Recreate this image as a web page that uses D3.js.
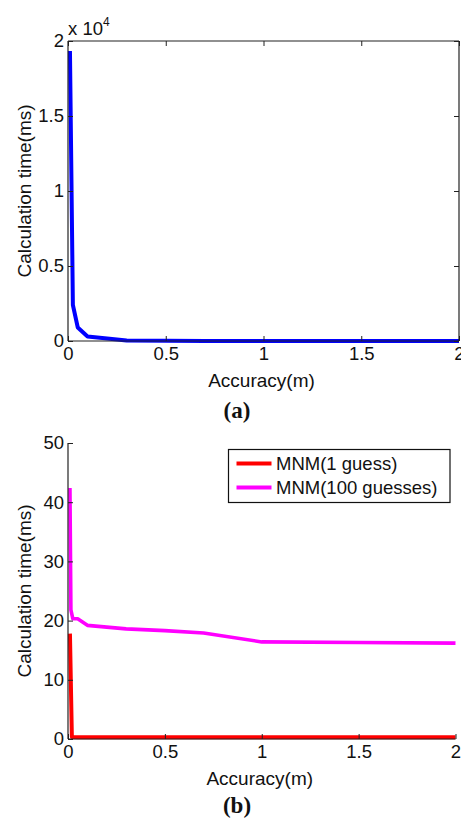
<!DOCTYPE html>
<html>
<head>
<meta charset="utf-8">
<script src="https://cdn.jsdelivr.net/npm/d3@7"></script>
<style>
  html, body { margin: 0; padding: 0; background: #fff; }
  svg { display: block; }
  text { font-family: "Liberation Sans", Arial, sans-serif; fill: #111; }
  .caption { font-family: "Liberation Serif", "DejaVu Serif", serif; font-weight: bold; }
</style>
</head>
<body>
<svg id="fig" width="461" height="823"></svg>
<script>
// (a) calculation time of the full search versus accuracy
const accuracyA = [0.01, 0.025, 0.05, 0.1, 0.3, 0.5, 0.7, 1, 1.5, 2];
const timeA = [19330, 2400, 900, 300, 30, 12, 8, 6, 5, 5];

// (b) MNM with one and with 100 initial guesses
const accuracyMNM1 = [0.01, 0.02, 0.05, 0.1, 0.3, 0.5, 0.7, 1, 1.5, 2];
const timeMNM1 = [17.8, 0.35, 0.3, 0.3, 0.3, 0.3, 0.3, 0.3, 0.3, 0.3];
const accuracyMNM100 = [0.01, 0.015, 0.025, 0.05, 0.1, 0.3, 0.5, 0.7, 1, 1.5, 2];
const timeMNM100 = [42.4, 21.8, 20.3, 20.3, 19.2, 18.6, 18.3, 17.9, 16.4, 16.3, 16.2];

const xTicks = [0, 0.5, 1, 1.5, 2];
const yTicksA = [0, 5000, 10000, 15000, 20000];
const yTicksB = [0, 10, 20, 30, 40, 50];
const legendLabels = ["MNM(1 guess)", "MNM(100 guesses)"];

const svg = d3.select("#fig");
const FS = 18.5;
const axisColor = "#222";
const tickLen = 5;

function fmtNum(v) { return String(v); }

function drawPanel(opt) {
  const { left, right, top, bottom, xDomain, yDomain, yTicks, yFmt, box, series, yLabel, caption, captionY } = opt;
  const x = d3.scaleLinear().domain(xDomain).range([left, right]);
  const y = d3.scaleLinear().domain(yDomain).range([bottom, top]);
  const g = svg.append("g");

  // data lines
  const line = d3.line().x(d => x(d[0])).y(d => y(d[1]));
  series.forEach(s => {
    g.append("path")
      .datum(d3.zip(s.x, s.y))
      .attr("d", line)
      .attr("fill", "none")
      .attr("stroke", s.color)
      .attr("stroke-width", s.width)
      .attr("stroke-linejoin", "round");
  });

  // axes: ticks point inward
  const xAxis = d3.axisBottom(x).tickValues(xTicks).tickSize(-tickLen).tickPadding(tickLen + 6).tickFormat(fmtNum);
  const yAxis = d3.axisLeft(y).tickValues(yTicks).tickSize(-tickLen).tickPadding(tickLen + 4).tickFormat(yFmt);

  const gx = g.append("g").attr("transform", `translate(0,${bottom})`).call(xAxis);
  const gy = g.append("g").attr("transform", `translate(${left},0)`).call(yAxis);

  [gx, gy].forEach(a => {
    a.select(".domain").attr("stroke", axisColor).attr("stroke-width", 1.2);
    a.selectAll(".tick line").attr("stroke", axisColor).attr("stroke-width", 1);
    a.selectAll(".tick text").attr("font-size", FS).attr("font-family", "Liberation Sans, Arial, sans-serif").attr("fill", "#111");
  });
  gx.select(".domain").attr("d", `M${left},0H${right}`);
  gy.select(".domain").attr("d", `M0,${bottom}V${top}`);
  gx.selectAll(".tick text").attr("dy", "0.71em").attr("y", tickLen + 1);
  gy.selectAll(".tick text").attr("x", -4);

  if (box) {
    const xTop = d3.axisTop(x).tickValues(xTicks).tickSize(-tickLen).tickFormat("");
    const yRight = d3.axisRight(y).tickValues(yTicks).tickSize(-tickLen).tickFormat("");
    const gt = g.append("g").attr("transform", `translate(0,${top})`).call(xTop);
    const gr = g.append("g").attr("transform", `translate(${right},0)`).call(yRight);
    [gt, gr].forEach(a => {
      a.select(".domain").attr("stroke", axisColor).attr("stroke-width", 1.2);
      a.selectAll(".tick line").attr("stroke", axisColor);
    });
    gt.select(".domain").attr("d", `M${left},0H${right}`);
    gr.select(".domain").attr("d", `M0,${bottom}V${top}`);
  }

  // axis titles
  g.append("text")
    .attr("x", (left + right) / 2 - 2)
    .attr("y", bottom + 46)
    .attr("text-anchor", "middle")
    .attr("font-size", FS + 0.5)
    .text("Accuracy(m)");

  g.append("text")
    .attr("transform", `translate(31,${(top + bottom) / 2}) rotate(-90)`)
    .attr("text-anchor", "middle")
    .attr("font-size", FS + 0.5)
    .text(yLabel);

  g.append("text")
    .attr("class", "caption")
    .attr("x", 237)
    .attr("y", captionY)
    .attr("text-anchor", "middle")
    .attr("font-size", 23)
    .text(caption.open)
    .append("tspan").text(caption.letter)
    .select(function () { return this.parentNode; })
    .append("tspan").text(caption.close);

  return { x, y, g };
}

// panel (a)
const pa = drawPanel({
  left: 68, right: 459, top: 41, bottom: 341,
  xDomain: [0, 2], yDomain: [0, 20000],
  yTicks: yTicksA, yFmt: d => String(d / 10000), box: true,
  series: [{ x: accuracyA, y: timeA, color: "#0000ff", width: 4 }],
  yLabel: "Calculation time(ms)",
  caption: { open: "(", letter: "a", close: ")" }, captionY: 418
});

// exponent marker above the y axis
const expo = pa.g.append("text").attr("x", 68).attr("y", 35).attr("font-size", FS);
expo.append("tspan").text("x 10");
expo.append("tspan").attr("dy", -9).attr("font-size", 12).text("4");

// panel (b)
const pb = drawPanel({
  left: 68, right: 455.5, top: 443, bottom: 739,
  xDomain: [0, 2], yDomain: [0, 50],
  yTicks: yTicksB, yFmt: fmtNum, box: false,
  series: [
    { x: accuracyMNM1, y: timeMNM1, color: "#ff0000", width: 4 },
    { x: accuracyMNM100, y: timeMNM100, color: "#ff00ff", width: 3.6 }
  ],
  yLabel: "Calculation time(ms)",
  caption: { open: "(", letter: "b", close: ")" }, captionY: 813
});

// legend
const leg = pb.g.append("g");
leg.append("rect")
  .attr("x", 228.5).attr("y", 449.5).attr("width", 221.5).attr("height", 53)
  .attr("fill", "#fff").attr("stroke", "#111").attr("stroke-width", 1.2);
const legColors = ["#ff0000", "#ff00ff"];
legendLabels.forEach((lab, i) => {
  const cy = 463.5 + i * 24;
  leg.append("line")
    .attr("x1", 236.5).attr("x2", 271.5).attr("y1", cy).attr("y2", cy)
    .attr("stroke", legColors[i]).attr("stroke-width", 4);
  leg.append("text")
    .attr("x", 276).attr("y", cy + 6.5)
    .attr("font-size", FS)
    .text(lab);
});
</script>
</body>
</html>
